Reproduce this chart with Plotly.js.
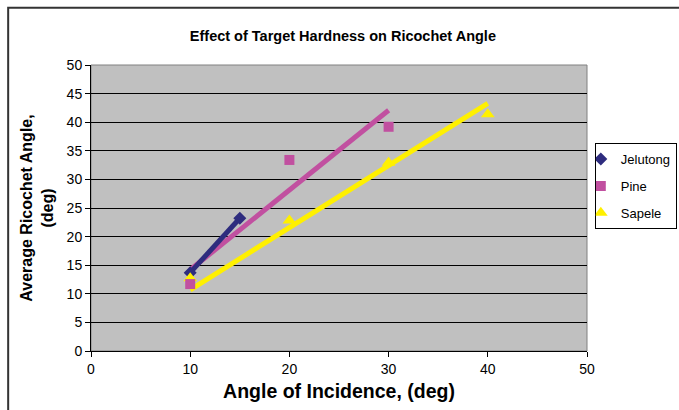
<!DOCTYPE html>
<html>
<head>
<meta charset="utf-8">
<script src="https://cdn.plot.ly/plotly-3.0.1.min.js"></script>
<style>html,body{margin:0;padding:0;background:#fff;}#chart{width:679px;height:410px;}</style>
</head>
<body>
<div id="chart"></div>
<script>
// Data
var seriesNames = ["Jelutong", "Pine", "Sapele"];
var jelutongX = [10, 15];
var jelutongY = [13.7, 23.2];
var pineX = [10, 20, 30];
var pineY = [11.7, 33.4, 39.2];
var sapeleX = [10, 20, 30, 40];
var sapeleY = [12.7, 22.8, 32.9, 41.4];
// Trendline end values as drawn in the picture
var jelutongTrendX = [10, 15];
var jelutongTrendY = [13.7, 23.2];
var pineTrendX = [10, 30];
var pineTrendY = [14.2, 42.1];
var sapeleTrendX = [10, 40];
var sapeleTrendY = [10.7, 43.3];

var cNavy = "#2E2C7E", cPink = "#C150A0", cYellow = "#FFF000";
var font = "Liberation Sans, Arial, sans-serif";

var traces = [
  {x: sapeleTrendX, y: sapeleTrendY, mode: "lines", line: {color: cYellow, width: 5}, showlegend: false, hoverinfo: "skip"},
  {x: pineTrendX, y: pineTrendY, mode: "lines", line: {color: cPink, width: 5}, showlegend: false, hoverinfo: "skip"},
  {x: jelutongTrendX, y: jelutongTrendY, mode: "lines", line: {color: cNavy, width: 5}, showlegend: false, hoverinfo: "skip"},
  {x: jelutongX, y: jelutongY, mode: "markers", name: seriesNames[0], legendgroup: "a", legendrank: 1, marker: {symbol: "diamond", color: cNavy, size: 10}},
  {x: sapeleX, y: sapeleY, mode: "markers", name: seriesNames[2], legendgroup: "c", legendrank: 3, marker: {symbol: "triangle-up", color: cYellow, size: 12}},
  {x: pineX, y: pineY, mode: "markers", name: seriesNames[1], legendgroup: "b", legendrank: 2, marker: {symbol: "square", color: cPink, size: 10}}
];

var layout = {
  width: 679, height: 410,
  margin: {l: 91, r: 92, t: 65, b: 59},
  paper_bgcolor: "#fff",
  plot_bgcolor: "#C0C0C0",
  font: {family: font, size: 14, color: "#000"},
  title: {text: "<b>Effect of Target Hardness on Ricochet Angle</b>", font: {family: font, size: 14.5, color: "#000"}, x: 0.505, xanchor: "center", y: 0.912, yanchor: "middle"},
  xaxis: {
    range: [0, 50], dtick: 10, tick0: 0, showgrid: false, zeroline: false,
    showline: true, linecolor: "#000", linewidth: 1,
    ticks: "outside", ticklen: 5, tickcolor: "#000",
    tickfont: {family: font, size: 14},
    title: {text: "<b>Angle of Incidence, (deg)</b>", font: {family: font, size: 19.5}, standoff: 8},
    fixedrange: true
  },
  yaxis: {
    range: [0, 50], dtick: 5, tick0: 0, showgrid: true, gridcolor: "#000", gridwidth: 1, zeroline: false,
    showline: true, linecolor: "#000", linewidth: 1,
    ticks: "outside", ticklen: 5, tickcolor: "#000",
    tickfont: {family: font, size: 14},
    title: {text: "<b>Average Ricochet Angle,<br>(deg)</b>", font: {family: font, size: 16}, standoff: 9},
    fixedrange: true
  },
  legend: {
    xref: "container", yref: "container",
    x: 0.876, xanchor: "left", y: 0.651, yanchor: "top",
    bgcolor: "#fff", bordercolor: "#000", borderwidth: 1,
    font: {family: font, size: 13}, tracegroupgap: 7, itemwidth: 30, traceorder: "grouped",
    indentation: -15
  },
  shapes: [
    {type: "rect", xref: "paper", yref: "paper", x0: 0, x1: 1, y0: 0, y1: 1, line: {color: "#808080", width: 1}, layer: "below"},
    {type: "rect", xref: "paper", yref: "paper", x0: -0.167, x1: 1.3, y0: -0.5, y1: 1.2, line: {color: "#333", width: 2}, fillcolor: "rgba(0,0,0,0)"}
  ],
  showlegend: true
};

Plotly.newPlot("chart", traces, layout, {displayModeBar: false, staticPlot: true});
</script>
</body>
</html>
